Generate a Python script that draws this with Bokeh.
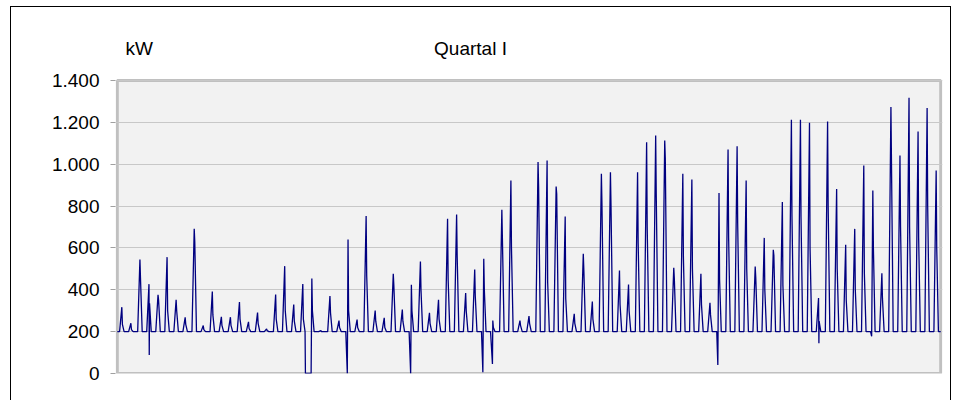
from bokeh.plotting import figure
from bokeh.models import Range1d, FixedTicker, Label
from bokeh.embed import file_html
from bokeh.resources import INLINE

# ---------------- data ----------------
title_text = "Quartal I"
unit_text = "kW"
y_ticks = [0, 200, 400, 600, 800, 1000, 1200, 1400]
y_tick_labels = ["0", "200", "400", "600", "800", "1.000", "1.200", "1.400"]

base_kw = 200  # night-time base load

# daily maximum load (kW), 91 days of Q1
peak_kw = [317, 240, 545, 427, 376, 556, 352, 268, 691, 229,
           392, 271, 269, 341, 247, 291, 213, 377, 513, 330,
           428, 454, 205, 370, 253, 640, 258, 752, 301, 266,
           476, 306, 424, 535, 290, 352, 739, 760, 385, 497,
           548, 253, 782, 922, 253, 274, 1010, 1018, 893, 750,
           285, 572, 344, 954, 962, 492, 425, 962, 1105, 1137,
           1113, 505, 954, 927, 476, 338, 862, 1070, 1086, 922,
           511, 648, 591, 819, 1212, 1212, 1198, 361, 1204, 882,
           615, 691, 994, 874, 479, 1273, 1042, 1317, 1156, 1269,
           970]

# secondary (afternoon) load level of each day (kW)
shoulder_kw = [235, 210, 454, 336, 350, 300, 300, 235, 627, 210,
               280, 230, 230, 260, 215, 240, 205, 260, 300, 250,
               260, 300, 200, 290, 220, 300, 220, 468, 250, 220,
               420, 250, 300, 400, 240, 260, 452, 559, 300, 370,
               400, 220, 639, 600, 230, 240, 890, 436, 858, 357,
               240, 492, 260, 811, 803, 330, 300, 627, 700, 858,
               1026, 452, 560, 500, 330, 280, 450, 650, 720, 500,
               457, 400, 564, 420, 755, 750, 600, 250, 800, 500,
               350, 400, 480, 600, 360, 1000, 700, 700, 650, 800,
               600]

# short drops of the measured load (day number, kW)
dip_day = [3.53, 25.42, 32.42, 40.40, 41.46, 66.37, 77.54, 83.37]
dip_kw = [89, 0, 0, 6, 46, 41, 145, 178]

# measurement outage (day number from / to, kW)
outage_start_day = 20.79
outage_end_day = 21.42
outage_kw = 0

# ---------------- build the load curve ----------------
n_days = len(peak_kw)
pts = [(0.0, base_kw), (float(n_days), base_kw)]
for d in range(n_days):
    for hour, kw in ((6, base_kw), (12, peak_kw[d]), (13.5, shoulder_kw[d]), (18, base_kw)):
        pts.append((d + hour / 24.0, kw))
pts = [pt for pt in pts if not (outage_start_day <= pt[0] <= outage_end_day)]
pts += [(outage_start_day, outage_kw), (outage_end_day, outage_kw)]
pts += list(zip(dip_day, dip_kw))
pts.sort(key=lambda q: q[0])
t = [q[0] for q in pts]
kw = [q[1] for q in pts]

# ---------------- figure ----------------
FONT = "Liberation Sans"
Y_MAX = y_ticks[-1]
Y_TOP = Y_MAX + 73 * Y_MAX / 293.0   # room above the plot area for title and unit
PAD = 0.2

p = figure(width=941, height=400, output_backend="svg", toolbar_location=None,
           x_range=Range1d(-PAD, n_days + PAD), y_range=Range1d(0, Y_TOP),
           min_border_left=104, min_border_right=10, min_border_top=0,
           min_border_bottom=34)
p.styles = {"border": "1px solid #000000", "margin-left": "10px", "margin-top": "6px"}
p.background_fill_color = "#ffffff"
p.border_fill_color = "#ffffff"
p.outline_line_color = None

p.xaxis.visible = False
p.xgrid.visible = False
p.ygrid.grid_line_color = "#c8c8c8"
p.ygrid.grid_line_width = 1
p.ygrid.ticker = FixedTicker(ticks=y_ticks)

ax = p.yaxis[0]
ax.ticker = FixedTicker(ticks=y_ticks)
ax.major_label_overrides = dict(zip(y_ticks, y_tick_labels))
ax.axis_line_color = None
ax.major_tick_line_color = "#a0a0a0"
ax.major_tick_in = 0
ax.major_tick_out = 5
ax.minor_tick_line_color = None
ax.major_label_standoff = 11
ax.major_label_text_font = FONT
ax.major_label_text_font_size = "19px"
ax.major_label_text_color = "#000000"

# plot area (grey background with grey border)
p.quad(left=[0], right=[n_days], bottom=[0], top=[Y_MAX], fill_color="#f2f2f2",
       line_color="#c0c0c0", line_width=3, level="image")

p.line(t, kw, line_color="#000080", line_width=1.3)

p.add_layout(Label(x=355, y=325, x_units="screen", y_units="screen", text=title_text,
                   text_align="center", text_baseline="middle", text_font=FONT,
                   text_font_size="19px", text_color="#000000"))
p.add_layout(Label(x=10, y=325, x_units="screen", y_units="screen", text=unit_text,
                   text_align="left", text_baseline="middle", text_font=FONT,
                   text_font_size="19px", text_color="#000000"))

open("out.html", "w").write(file_html(p, INLINE))
